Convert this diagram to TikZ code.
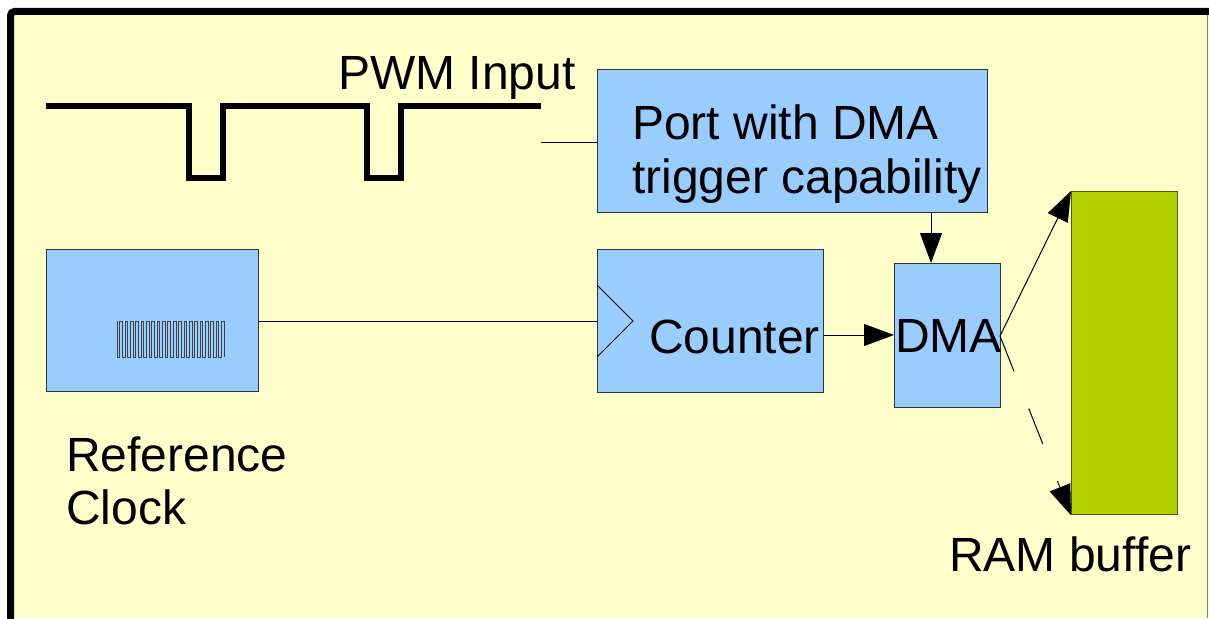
\documentclass[tikz,border=0pt]{standalone}
\usepackage{fontspec}
\setmainfont{Liberation Sans}
\usetikzlibrary{arrows.meta}
\definecolor{bgyellow}{HTML}{FFFFCC}
\definecolor{boxblue}{HTML}{99CCFF}
\definecolor{ramgreen}{HTML}{B0D000}
\definecolor{ramedge}{HTML}{4F5B00}
\begin{document}
\begin{tikzpicture}[x=1pt,y=-1pt,
  blockbox/.style={draw=black!80,fill=boxblue,line width=1.2pt,inner sep=0pt,anchor=north west},
  lbl/.style={font=\fontsize{48}{56}\selectfont,anchor=base west,inner sep=0pt},
  bigtip/.style={-{Triangle[length=30pt,width=22pt]}},
  wire/.style={line width=1pt},
  pwmline/.style={line width=6pt}]
\useasboundingbox (0,0) rectangle (1209,618);
\fill[white] (0,0) rectangle (1209,618);
\fill[bgyellow] (10.5,11.5) rectangle (1209,618);
\draw[line width=7pt, rounded corners=4pt] (10.5,620) -- (10.5,11.5) -- (1212,11.5);
\draw[gray,line width=1pt] (1207.5,15) -- (1207.5,618);
% boxes
\node[blockbox,minimum width=390pt,minimum height=143pt] (port) at (597,69) {};
\node[blockbox,minimum width=226pt,minimum height=143pt] (counter) at (597,249) {};
\node[blockbox,minimum width=106pt,minimum height=144pt] (dma) at (894,263) {};
\node[blockbox,minimum width=212pt,minimum height=142pt] (refclk) at (46,249) {};
\node[draw=ramedge,fill=ramgreen,line width=1.2pt,minimum width=106pt,minimum height=323pt,inner sep=0pt,anchor=north west] (ram) at (1071,191) {};
% labels
\node[lbl] (pwmlbl) at (338,89) {PWM Input};
\node[lbl] (portlbl1) at (632,139) {Port with DMA};
\node[lbl] (portlbl2) at (632,193) {trigger capability};
\node[lbl] (cntlbl) at (649,353) {Counter};
\node[lbl] (dmalbl) at (895,352) {DMA};
\node[lbl] (reflbl1) at (66,471) {Reference};
\node[lbl] (reflbl2) at (66,524) {Clock};
\node[lbl] (ramlbl) at (949,571) {RAM buffer};
% PWM waveform
\coordinate (pwmstart) at (46,106);
\coordinate (pwmend) at (541,106);
\draw[pwmline] (pwmstart) -- (189,106) -- (189,178) -- (223,178) -- (223,106)
  -- (367,106) -- (367,178) -- (401,178) -- (401,106) -- (pwmend);
\coordinate (pwmtap) at (541,142);
\draw[wire] (pwmtap) -- (port.west |- pwmtap);
% clock triangle on counter
\coordinate (clkA) at (597,285);
\coordinate (clkB) at (633,321);
\coordinate (clkC) at (597,357);
\draw[wire] (clkA) -- (clkB) -- (clkC);
% reference clock squiggle
\draw[line width=0.7pt,black!75] (117,321)
  \foreach \i in {0,...,19} { -- ++(0,36) -- ++(2.675,0) -- ++(0,-36) -- ++(2.675,0) } -- ++(0,36);
\draw[wire] (refclk.east |- clkB) -- (counter.west |- clkB);
% connectors
\draw[wire,bigtip] (port.south -| 931,0) -- (dma.north -| 931,0);
\draw[wire,bigtip] (counter.east |- 0,335) -- (dma.west |- 0,335);
\coordinate (dmaout) at (1000,336);
\draw[wire,bigtip] (dmaout) -- (ram.north west);
\draw[wire,bigtip,dash pattern=on 38pt off 40pt on 38pt off 40pt on 40pt off 0pt] (dmaout) -- (ram.south west);
\end{tikzpicture}
\end{document}
